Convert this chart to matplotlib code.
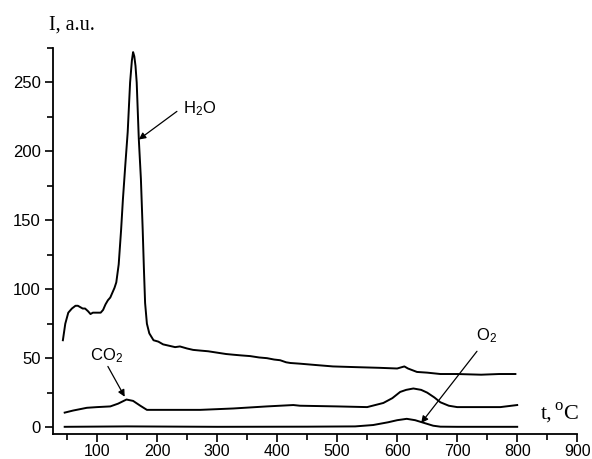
import matplotlib
matplotlib.use("Agg")
import matplotlib.pyplot as plt
from matplotlib.ticker import MultipleLocator

# H2O signal
t_h2o = [43, 47, 52, 58, 64, 68, 72, 76, 80, 85, 89, 93, 98, 102, 106, 110, 114, 118, 122, 125, 129,
         132, 136, 140, 143, 147, 151, 155, 158, 160, 162, 164, 166, 169.5, 173, 176, 178, 180, 183,
         187, 194, 202, 210, 220, 230, 238, 250, 260, 272, 285, 300, 315, 327, 340, 355, 370, 383,
         395, 405, 415, 422, 438, 465, 493, 530, 570, 600, 612, 618, 633, 650, 672, 700, 740, 770, 797]
i_h2o = [63, 75, 83, 86, 88, 88, 87, 86, 86, 84, 82, 83, 83, 83, 83, 85, 89, 92, 94, 97, 101,
         105, 118, 143, 165, 190, 214, 250, 266, 272, 269, 262, 250, 209, 180, 143, 115, 90, 75,
         68, 63, 62, 60, 59, 58, 58.5, 57, 56, 55.5, 55, 54, 53, 52.5, 52, 51.5, 50.5, 50,
         49, 48.5, 47, 46.5, 46, 45, 44, 43.5, 43, 42.5, 44, 42.5, 40, 39.5, 38.5, 38.5, 38, 38.5, 38.5]

# CO2 signal
t_co2 = [46, 60, 83, 100, 122, 135, 149, 160, 172, 183, 200, 240, 272, 327, 383, 427, 438, 500,
         550, 577, 592, 605, 615, 627, 640, 650, 662, 672, 686, 700, 740, 772, 800]
i_co2 = [10.5, 12, 14, 14.5, 15, 17, 20, 19, 15.5, 12.5, 12.5, 12.5, 12.5, 13.5, 15, 16, 15.5, 15,
         14.5, 17.5, 21, 25.5, 27, 28, 27, 25, 21.5, 18, 15.5, 14.5, 14.5, 14.5, 16]

# O2 signal
t_o2 = [46, 150, 300, 450, 530, 560, 585, 600, 616, 630, 645, 660, 672, 700, 750, 800]
i_o2 = [0.2, 0.5, 0.2, 0.3, 0.5, 1.5, 3.5, 5, 6, 5, 3, 1, 0.3, 0.2, 0.2, 0.2]

plt.rcParams['font.family'] = ['Liberation Sans', 'DejaVu Sans']
plt.rcParams['mathtext.fontset'] = 'custom'
plt.rcParams['mathtext.rm'] = 'Liberation Sans'
plt.rcParams['mathtext.it'] = 'Liberation Sans'

fig = plt.figure(figsize=(5.92, 4.59), dpi=100)
ax = fig.add_axes([0.09, 0.0545, 0.885, 0.841])

lw = 1.4
ax.plot(t_h2o, i_h2o, color='black', lw=lw)
ax.plot(t_co2, i_co2, color='black', lw=lw)
ax.plot(t_o2, i_o2, color='black', lw=lw)

ax.set_xlim(27, 900)
ax.set_ylim(-5, 275)
ax.spines['top'].set_visible(False)
ax.spines['right'].set_visible(False)
for s in ('left', 'bottom'):
    ax.spines[s].set_linewidth(1.3)

ax.xaxis.set_major_locator(MultipleLocator(100))
ax.xaxis.set_minor_locator(MultipleLocator(50))
ax.yaxis.set_major_locator(MultipleLocator(50))
ax.yaxis.set_minor_locator(MultipleLocator(25))
ax.tick_params(which='major', direction='out', length=6, width=1.2, labelsize=12, pad=3)
ax.tick_params(axis='x', which='major', labelsize=11.5, pad=1.5)
ax.tick_params(which='minor', direction='out', length=4, width=1.2)
ax.set_xticks([100, 200, 300, 400, 500, 600, 700, 800, 900])
ax.set_yticks([0, 50, 100, 150, 200, 250])

arrow = dict(arrowstyle='-|>', color='black', lw=0.9, mutation_scale=10, shrinkA=0, shrinkB=0)
ax.annotate('', xy=(169.5, 208.6), xytext=(233, 229), arrowprops=arrow)
ax.text(243, 231, r'H$_{\mathregular{2}}$O', fontsize=12, va='center', ha='left')
ax.annotate('', xy=(146, 22), xytext=(118, 44), arrowprops=arrow)
ax.text(116, 52, r'CO$_{\mathregular{2}}$', fontsize=12, va='center', ha='center')
ax.annotate('', xy=(640, 3), xytext=(733, 55), arrowprops=arrow)
ax.text(732, 66, r'O$_{\mathregular{2}}$', fontsize=12, va='center', ha='left')

fig.text(0.083, 0.945, 'I, a.u.', fontsize=14.5, family='Liberation Serif', ha='left', va='center')
fig.text(0.914, 0.098, 't,', fontsize=16, family='Liberation Serif', ha='left', va='center')
fig.text(0.937, 0.116, 'o', fontsize=12, family='Liberation Serif', ha='left', va='center')
fig.text(0.951, 0.098, 'C', fontsize=16, family='Liberation Serif', ha='left', va='center')

fig.savefig('out.png', dpi=100)
